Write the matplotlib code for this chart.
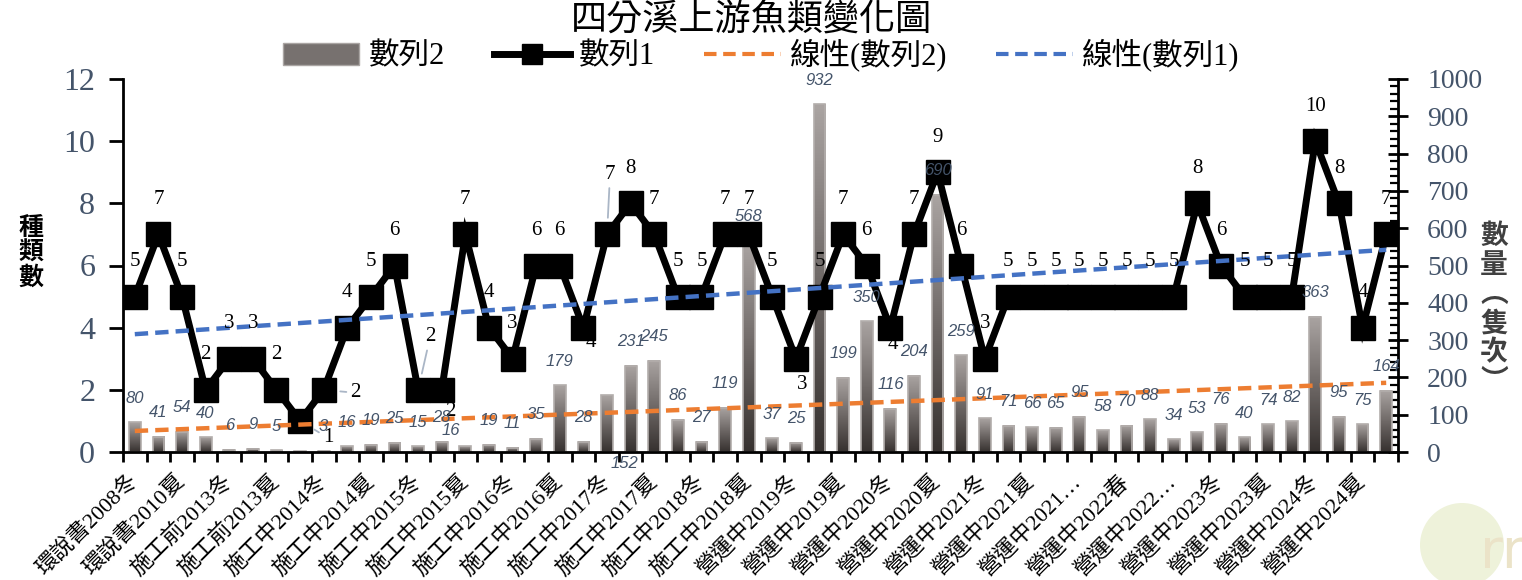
import numpy as np
import matplotlib
matplotlib.use('Agg')
import matplotlib.pyplot as plt
from matplotlib.colors import LinearSegmentedColormap
from matplotlib.font_manager import FontProperties
from matplotlib.lines import Line2D
from matplotlib.patches import Patch, Ellipse

CJK = 'Noto Sans CJK TC'
SERIF = ['Liberation Serif', CJK]
SLATE = '#44546a'

title = '四分溪上游魚類變化圖'

# 每隔一季標一次
tick_labels = ['環說書2008冬', '環說書2010夏', '施工前2013冬', '施工前2013夏',
               '施工中2014冬', '施工中2014夏', '施工中2015冬', '施工中2015夏',
               '施工中2016冬', '施工中2016夏', '施工中2017冬', '施工中2017夏',
               '施工中2018冬', '施工中2018夏', '營運中2019冬', '營運中2019夏',
               '營運中2020冬', '營運中2020夏', '營運中2021冬', '營運中2021夏',
               '營運中2021…', '營運中2022春', '營運中2022…', '營運中2023冬',
               '營運中2023夏', '營運中2024冬', '營運中2024夏']

# 數列1: 種類數
species = [5, 7, 5, 2, 3, 3, 2, 1, 2, 4, 5, 6, 2, 2, 7, 4, 3, 6, 6, 4,
           7, 8, 7, 5, 5, 7, 7, 5, 3, 5, 7, 6, 4, 7, 9, 6, 3, 5, 5, 5,
           5, 5, 5, 5, 5, 8, 6, 5, 5, 5, 10, 8, 4, 7]

# 數列2: 數量(隻次)
counts = [80, 41, 54, 40, 6, 9, 5, 2, 3, 16, 19, 25, 15, 28, 16, 19, 11, 35,
          179, 28, 152, 231, 245, 86, 27, 119, 568, 37, 25, 932, 199, 350,
          116, 204, 690, 259, 91, 71, 66, 65, 95, 58, 70, 88, 34, 53, 76, 40,
          74, 82, 363, 95, 75, 164]

# 標籤位移 (像素), 有些有引導線
species_offset = {7: (28, -17), 8: (32, -3), 12: (12, 53), 13: (9, -22),
                  19: (7, -15), 20: (3, 60), 28: (6, -26), 32: (3, -17)}
species_leader = {7, 8, 12, 20}
count_offset = {14: (-15, 16), 20: (17, -68)}
count_hidden = {7}

n = len(species)
x = np.arange(n)

fig = plt.figure(figsize=(15.22, 5.8), dpi=100)
ax1 = fig.add_axes([123 / 1522, 1 - 452 / 580, 1275 / 1522, 373 / 580])
ax2 = ax1.twinx()
ax1.set_zorder(ax2.get_zorder() + 1)
ax1.patch.set_visible(False)

'''
長條圖 (漸層灰)
'''
bar_cmap = LinearSegmentedColormap.from_list('bar', ['#36312f', '#6f6967', '#aaa4a2'])
grad = np.linspace(0, 1, 128).reshape(-1, 1)
bars = ax2.bar(x, counts, width=0.5, facecolor='none', edgecolor='#b3aeac',
               linewidth=1.2, zorder=3)
for b in bars:
    x0, y0 = b.get_x(), b.get_y()
    ax2.imshow(grad, extent=(x0, x0 + b.get_width(), y0, y0 + b.get_height()),
               origin='lower', cmap=bar_cmap, aspect='auto', zorder=2)

ax2.set_ylim(0, 1000)
ax1.set_xlim(-0.5, n - 0.5)
ax1.set_ylim(0, 12)

'''
折線 + 趨勢線
'''
ax1.plot(x, species, color='black', lw=5, marker='s', markersize=17,
         solid_joinstyle='miter', zorder=3)

k1, b1 = np.polyfit(x, species, 1)
k2, b2 = np.polyfit(x, counts, 1)
trend_kw = dict(lw=3.2, linestyle=(0, (3, 1.6)), dash_capstyle='butt', zorder=4)
ax1.plot(x, k2 * x + b2, color='#ed7d31', transform=ax2.transData, **trend_kw)
ax1.plot(x, k1 * x + b1, color='#4472c4', **trend_kw)

'''
資料標籤
'''
for i, v in enumerate(species):
    dx, dy = species_offset.get(i, (0, 35))
    arrow = None
    if i in species_leader:
        arrow = dict(arrowstyle='-', color='#aab6c6', lw=1.3, shrinkA=1, shrinkB=12)
    ax1.annotate(str(v), (i, v), xytext=(dx, dy), textcoords='offset pixels',
                 ha='center', va='center', fontsize=15, family=SERIF,
                 arrowprops=arrow, zorder=5)

for i, v in enumerate(counts):
    if i in count_hidden:
        continue
    dx, dy = count_offset.get(i, (0, 24))
    ax1.annotate(str(v), (i, v), xycoords=ax2.transData, xytext=(dx, dy),
                 textcoords='offset pixels', ha='center', va='center',
                 fontsize=12, family='Liberation Sans', style='italic',
                 color=SLATE, zorder=6, annotation_clip=False)

'''
座標軸
'''
ax1.spines['top'].set_visible(False)
ax1.spines['right'].set_visible(False)
for s in ['top', 'left', 'bottom']:
    ax2.spines[s].set_visible(False)
for s in ['left', 'bottom']:
    ax1.spines[s].set_linewidth(2)
ax2.spines['right'].set_linewidth(2)

ax1.set_xticks(np.arange(-0.5, n, 1))
ax1.set_xticklabels([])
ax1.set_xticks(np.arange(0, n, 2), tick_labels, minor=True)
ax1.tick_params(axis='x', which='major', direction='out', length=7, width=2)
ax1.tick_params(axis='x', which='minor', length=0, pad=19)
for lab in ax1.get_xticklabels(minor=True):
    lab.set_rotation(45)
    lab.set_ha('right')
    lab.set_va('center')
    lab.set_rotation_mode('anchor')
    lab.set_fontproperties(FontProperties(family=SERIF, size=16))

ax1.set_yticks(range(0, 13, 2))
ax1.tick_params(axis='y', direction='out', length=10, width=2, pad=10,
                labelsize=23, labelcolor=SLATE)
for lab in ax1.get_yticklabels():
    lab.set_family('Liberation Serif')

ax2.set_yticks(range(0, 1001, 100))
ax2.set_yticks(range(0, 1001, 20), minor=True)
ax2.tick_params(axis='y', which='major', direction='inout', length=14, width=2,
                pad=14, labelsize=20, labelcolor=SLATE)
ax2.tick_params(axis='y', which='minor', direction='in', length=6, width=1.6)
for lab in ax2.get_yticklabels():
    lab.set_family('Liberation Serif')

ax1.set_xlim(-0.5, n - 0.5)

'''
標題、圖例、軸標題
'''
fig.text(0.494, 0.966, title, ha='center', va='center', fontsize=26, family=CJK)

handles = [Patch(facecolor='#77716f', edgecolor='#aaa5a3'),
           Line2D([], [], color='black', lw=5, marker='s', markersize=14),
           Line2D([], [], color='#ed7d31', lw=3, linestyle=(0, (3, 1.6))),
           Line2D([], [], color='#4472c4', lw=3, linestyle=(0, (3, 1.6)))]
fig.legend(handles, ['數列2', '數列1', '線性(數列2)', '線性(數列1)'],
           loc='center', bbox_to_anchor=(0.5, 0.905), ncol=4, frameon=False,
           prop=FontProperties(family=SERIF, size=22), handlelength=2.5,
           columnspacing=1.6, handletextpad=0.3)

fig.text(0.0204, 0.564, '種\n類\n數', ha='center', va='center', fontsize=18,
         weight='bold', family=CJK, linespacing=1.05)
fig.text(0.9816, 0.468, '數\n量\n︵\n隻\n次\n︶', ha='center', va='center',
         fontsize=20, weight='bold', family=CJK, color='#404040', linespacing=1.05)

# 右下角浮水印
fig.patches.append(Ellipse((1462 / 1522, 1 - 545 / 580), 84 / 1522, 84 / 580,
                           transform=fig.transFigure, facecolor='#eef2da',
                           edgecolor='none', zorder=0))
fig.text(1480 / 1522, 0.0, 'rm', fontsize=40, color='#ebe3c8', family='DejaVu Sans',
         ha='left', va='bottom', zorder=0)

fig.savefig('out.png', dpi=100)
